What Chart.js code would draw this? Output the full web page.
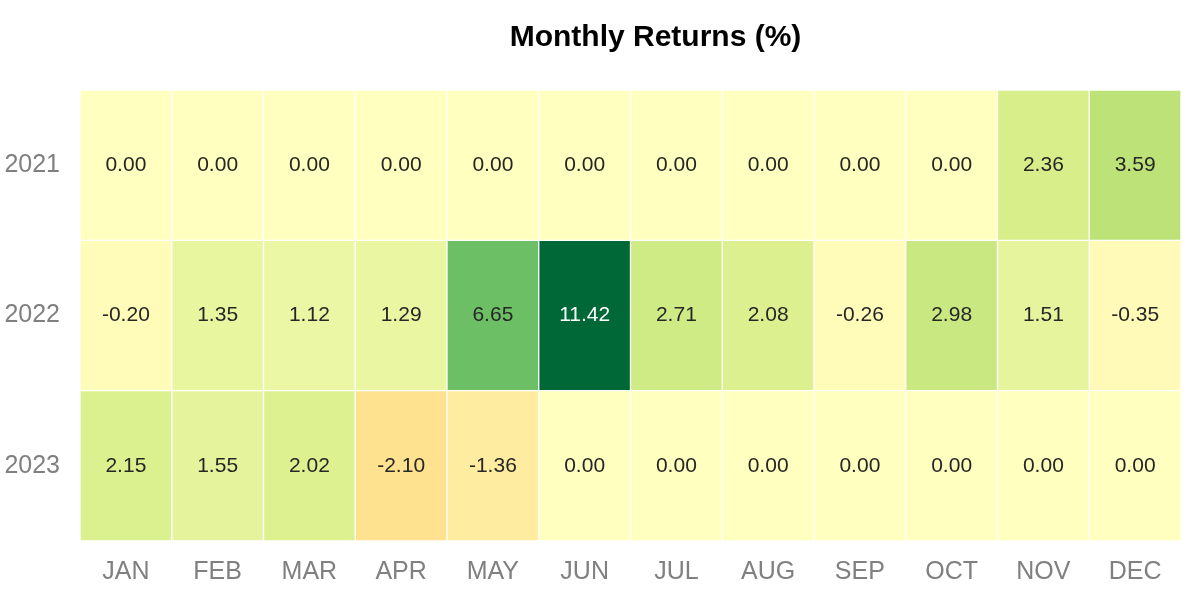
<!DOCTYPE html>
<html>
<head>
<meta charset="utf-8">
<script src="https://cdn.jsdelivr.net/npm/chart.js@4"></script>
<style>
  html, body { margin: 0; padding: 0; background: #fff; }
  #wrap { width: 1198px; height: 606px; }
</style>
</head>
<body>
<div id="wrap"><canvas id="myChart"></canvas></div>
<script>
// Data
const months = ['JAN', 'FEB', 'MAR', 'APR', 'MAY', 'JUN', 'JUL', 'AUG', 'SEP', 'OCT', 'NOV', 'DEC'];
const years = ['2021', '2022', '2023'];
const returns2021 = [0.00, 0.00, 0.00, 0.00, 0.00, 0.00, 0.00, 0.00, 0.00, 0.00, 2.36, 3.59];
const returns2022 = [-0.20, 1.35, 1.12, 1.29, 6.65, 11.42, 2.71, 2.08, -0.26, 2.98, 1.51, -0.35];
const returns2023 = [2.15, 1.55, 2.02, -2.10, -1.36, 0.00, 0.00, 0.00, 0.00, 0.00, 0.00, 0.00];
const rows = [returns2021, returns2022, returns2023];

// RdYlGn colormap stops
const rdylgn = ['#a50026', '#d73027', '#f46d43', '#fdae61', '#fee08b', '#ffffbf',
                '#d9ef8b', '#a6d96a', '#66bd63', '#1a9850', '#006837'];

function hexToRgb(h) {
    return [parseInt(h.slice(1, 3), 16), parseInt(h.slice(3, 5), 16), parseInt(h.slice(5, 7), 16)];
}

const vmax = Math.max(...rows.flat().map(Math.abs));

function cellColor(v) {
    let t = (v + vmax) / (2 * vmax);
    t = Math.min(1, Math.max(0, t)) * (rdylgn.length - 1);
    const i = Math.min(rdylgn.length - 2, Math.floor(t));
    const f = t - i;
    const a = hexToRgb(rdylgn[i]), b = hexToRgb(rdylgn[i + 1]);
    const c = a.map((x, k) => Math.round(x + (b[k] - x) * f));
    return 'rgb(' + c.join(',') + ')';
}

function isDark(v) {
    const c = cellColor(v).match(/\d+/g).map(Number);
    const lum = (0.299 * c[0] + 0.587 * c[1] + 0.114 * c[2]) / 255;
    return lum < 0.45;
}

const datasets = rows.map((vals, r) => ({
    label: years[r],
    data: vals.map(() => [r, r + 1]),
    values: vals,
    backgroundColor: vals.map(cellColor),
    borderColor: '#ffffff',
    borderWidth: 1,
    borderSkipped: false,
    grouped: false,
    barPercentage: 1,
    categoryPercentage: 1
}));

// cell numbers
const cellLabels = {
    id: 'cellLabels',
    afterDatasetsDraw(chart) {
        const ctx = chart.ctx;
        ctx.save();
        ctx.font = '21px "Liberation Sans", Arial, sans-serif';
        ctx.textAlign = 'center';
        ctx.textBaseline = 'middle';
        chart.data.datasets.forEach((ds, di) => {
            chart.getDatasetMeta(di).data.forEach((bar, j) => {
                const v = ds.values[j];
                ctx.fillStyle = isDark(v) ? '#ffffff' : '#262626';
                ctx.fillText(v.toFixed(2), bar.x, (bar.y + bar.base) / 2);
            });
        });
        ctx.restore();
    }
};

// title, offset to the right as in the picture
const heatTitle = {
    id: 'heatTitle',
    afterDraw(chart) {
        const ctx = chart.ctx;
        const a = chart.chartArea;
        ctx.save();
        ctx.font = 'bold 30px "Liberation Sans", Arial, sans-serif';
        ctx.fillStyle = '#000000';
        ctx.textAlign = 'center';
        ctx.textBaseline = 'middle';
        ctx.fillText('Monthly Returns (%)', (a.left + a.right) / 2 + 25, 38);
        ctx.restore();
    }
};

const config = {
    type: 'bar',
    data: { labels: months, datasets: datasets },
    options: {
        responsive: true,
        maintainAspectRatio: false,
        animation: false,
        layout: { padding: { top: 90, right: 17, left: 0, bottom: 0 } },
        plugins: {
            legend: { display: false },
            tooltip: { enabled: false },
            title: { display: false }
        },
        scales: {
            x: {
                type: 'category',
                grid: { display: false, drawTicks: false },
                border: { display: false },
                ticks: {
                    color: '#808080',
                    padding: 16,
                    font: { size: 25, family: '"Liberation Sans", Arial, sans-serif' }
                },
                afterFit(scale) { scale.height = 65; }
            },
            y: {
                type: 'linear',
                min: 0,
                max: 3,
                reverse: true,
                grid: { display: false, drawTicks: false },
                border: { display: false },
                afterBuildTicks(scale) {
                    scale.ticks = years.map((y, i) => ({ value: i + 0.5 }));
                },
                ticks: {
                    color: '#808080',
                    padding: 20,
                    font: { size: 25, family: '"Liberation Sans", Arial, sans-serif' },
                    callback: (value) => years[Math.floor(value)]
                },
                afterFit(scale) { scale.width = 80; }
            }
        }
    },
    plugins: [cellLabels, heatTitle]
};

const myChart = new Chart(document.getElementById('myChart'), config);
</script>
</body>
</html>
